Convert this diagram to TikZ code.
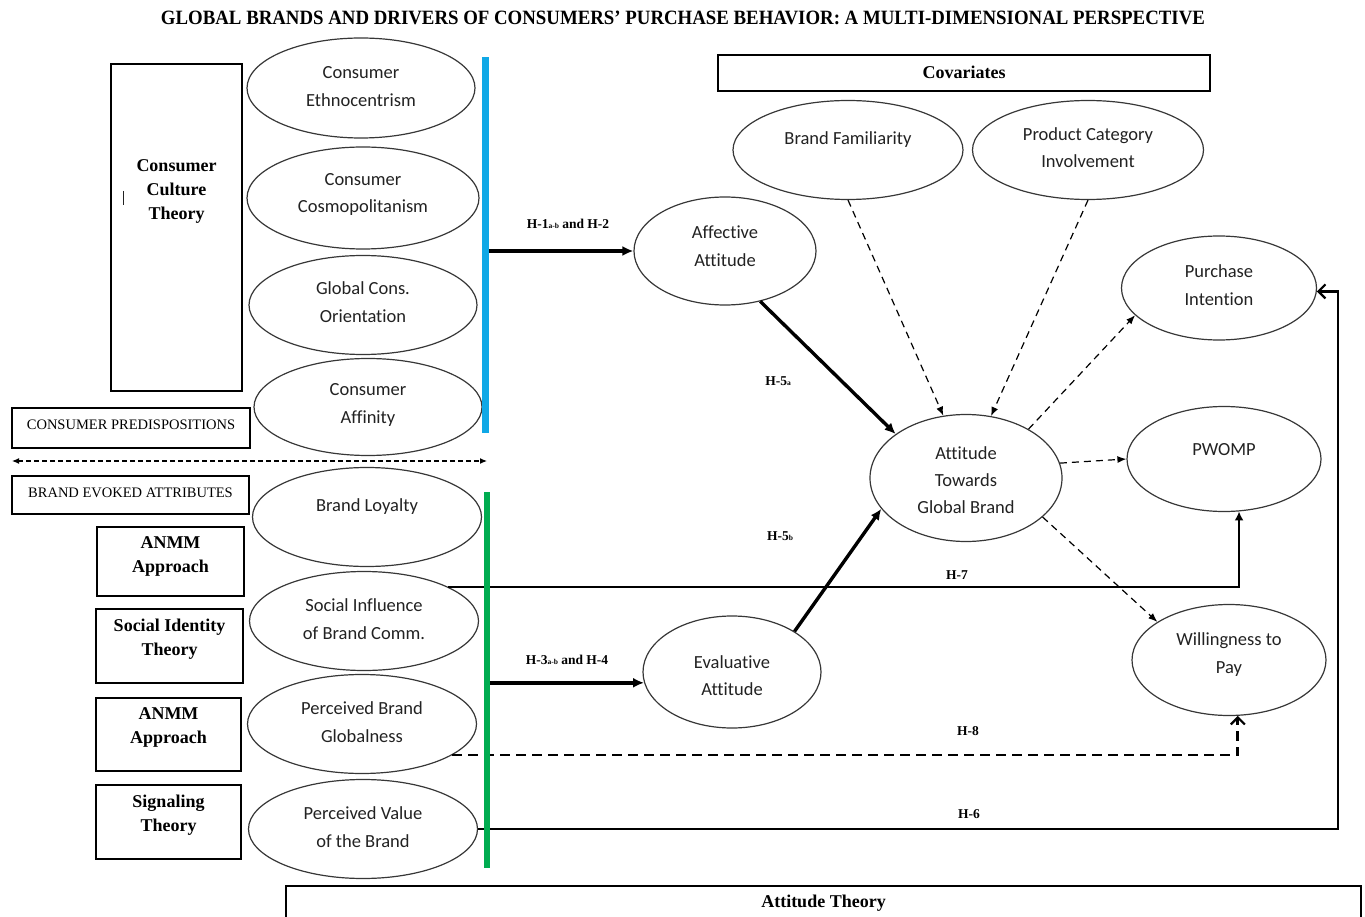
\documentclass[tikz,border=0pt]{standalone}
\usepackage{fontspec}
\setmainfont{Carlito}[Ligatures=NoCommon]
\newfontfamily\lsfont{Liberation Serif}
\usetikzlibrary{arrows.meta,shapes.geometric,calc}
\definecolor{barblue}{RGB}{16,168,230}
\definecolor{bargreen}{RGB}{0,172,80}
\definecolor{inkgray}{RGB}{34,34,34}
\definecolor{rimgray}{RGB}{55,55,55}
\newcommand{\hsub}[1]{\raisebox{-0.6pt}{\fontsize{7.5}{8}\selectfont #1}}
\begin{document}
\begin{tikzpicture}[x=1pt,y=-1pt,
  oval/.style 2 args={ellipse, draw=rimgray, line width=1.2pt, fill=white,
    inner sep=0pt, minimum width=#1pt, minimum height=#2pt},
  ovtext/.style={text=inkgray, align=center, inner sep=0pt,
    font=\fontsize{18.5}{27.5}\selectfont},
  thbox/.style 2 args={draw=black, line width=1.3pt, fill=white,
    inner sep=0pt, minimum width=#1pt, minimum height=#2pt},
  thtext/.style={text=black, align=center, inner sep=0pt,
    font=\lsfont\bfseries\fontsize{18}{24}\selectfont},
  captext/.style={text=black, align=center, inner sep=0pt,
    font=\lsfont\fontsize{14.5}{17}\selectfont},
  hlab/.style={text=black, inner sep=0pt,
    font=\lsfont\bfseries\fontsize{13.5}{16}\selectfont},
  bar/.style={draw=none, inner sep=0pt, minimum width=6.5pt, minimum height=376pt},
  boldarrow/.style={line width=3.4pt, -{Latex[length=11pt,width=10pt]}},
  covlink/.style={line width=1.2pt, dash pattern=on 7pt off 5pt,
    -{Latex[length=9pt,width=7pt]}},
  solidlink/.style={line width=2.8pt},
  dashlink/.style={line width=2.8pt, dash pattern=on 10pt off 6pt},
  barb/.style={-{Straight Barb[length=7pt,width=14pt,line width=2.2pt]}}
]
\useasboundingbox (0,0) rectangle (1365,917);

% title
\node[inner sep=0pt] (title) at (683,18)
  {\resizebox{1044pt}{13.5pt}{\lsfont\bfseries GLOBAL BRANDS AND DRIVERS OF CONSUMERS’ PURCHASE BEHAVIOR: A MULTI-DIMENSIONAL PERSPECTIVE}};

% theory boxes on the left
\node[thbox={131}{327}, label={[thtext,yshift=36pt]center:{Consumer\\Culture\\Theory}}] (cct) at (176.5,227.5) {};
\draw[line width=0.9pt, inkgray] (123,191) -- (123,205);
\node[thbox={238}{40}, label={[captext,yshift=3pt]center:CONSUMER PREDISPOSITIONS}] (cpd) at (131,428) {};
\node[thbox={237}{38}, label={[captext,yshift=2pt]center:BRAND EVOKED ATTRIBUTES}] (bea) at (130.5,495) {};
\node[thbox={147}{69}, label={[thtext,yshift=5pt]center:{ANMM\\Approach}}] (anmmA) at (170.5,561.5) {};
\node[thbox={147}{74}, label={[thtext,yshift=6.5pt]center:{Social Identity\\Theory}}] (sit) at (169.5,646) {};
\node[thbox={145}{73}, label={[thtext,yshift=7pt]center:{ANMM\\Approach}}] (anmmB) at (168.5,734.5) {};
\node[thbox={145}{74}, label={[thtext,yshift=6.5pt]center:{Signaling\\Theory}}] (sig) at (168.5,822) {};

% covariates and attitude theory boxes
\node[thbox={492}{36}, label={[thtext,yshift=1pt]center:Covariates}] (cov) at (964,73) {};
\node[thbox={1075}{54}, label={[thtext,yshift=10pt]center:Attitude Theory}] (att) at (823.5,913) {};

% consumer predispositions
\node[oval={228}{100}, label={[ovtext,yshift=1.5pt]center:{Consumer\\Ethnocentrism}}] (ce) at (361,88) {};
\node[oval={232}{102}, label={[ovtext,yshift=3.5pt]center:{Consumer\\Cosmopolitanism}}] (cc) at (363,198) {};
\node[oval={228}{99}, label={[ovtext,yshift=3pt]center:{Global Cons.\\Orientation}}] (gco) at (363,305) {};
\node[oval={228}{97}, label={[ovtext,yshift=2pt]center:{Consumer\\Affinity}}] (ca) at (368,407) {};

% brand evoked attributes
\node[oval={229}{99}, label={[ovtext,yshift=10pt]center:Brand Loyalty}] (bl) at (367,517) {};
\node[oval={229}{99}, label={[ovtext,yshift=2pt]center:{Social Influence\\of Brand Comm.}}] (sib) at (364,621) {};
\node[oval={229}{99}, label={[ovtext,yshift=2pt]center:{Perceived Brand\\Globalness}}] (pbg) at (362,724) {};
\node[oval={229}{99}, label={[ovtext,yshift=2pt]center:{Perceived Value\\of the Brand}}] (pvb) at (363,829) {};

% covariates
\node[oval={230}{99}, label={[ovtext,yshift=10pt]center:Brand Familiarity}] (bf) at (848,150) {};
\node[oval={231}{99}, label={[ovtext,yshift=2.5pt]center:{Product Category\\Involvement}}] (pci) at (1088,150) {};

% attitudes and outcomes
\node[oval={182}{108}, label={[ovtext,yshift=5pt]center:{Affective\\Attitude}}] (aa) at (725,251) {};
\node[oval={178}{112}, label={[ovtext,yshift=-3.5pt]center:{Evaluative\\Attitude}}] (ea) at (732,672) {};
\node[oval={192}{127}, label={[ovtext,yshift=-2pt,font=\fontsize{18.5}{27}\selectfont]center:{Attitude\\Towards\\Global Brand}}] (atgb) at (966,478) {};
\node[oval={195}{104}, label={[ovtext,yshift=3pt]center:{Purchase\\Intention}}] (pi) at (1219,288) {};
\node[oval={194}{105}, label={[ovtext,yshift=9pt]center:PWOMP}] (pw) at (1224,459) {};
\node[oval={194}{111}, label={[ovtext,yshift=5.5pt]center:{Willingness to\\Pay}}] (wtp) at (1229,660) {};

% long hypothesis paths to the outcomes
\coordinate (h6x) at (1338,0);
\draw[solidlink, barb] (pvb.east) -| (h6x |- pi.-2.5) -- (pi.-2.5);
\draw[solidlink, -{Latex[length=9pt,width=9pt]}] (sib.22) -| (pw.-74);
\draw[dashlink, barb] (pbg.-19) -| (wtp.-81);

% grouping bars
\node[bar, fill=barblue] (bbar) at (485.5,245) {};
\node[bar, fill=bargreen] (gbar) at (487,680) {};

% divider between the two groups
\coordinate (divL) at (12,461);
\coordinate (divR) at (487,461);
\draw[line width=1.2pt, dash pattern=on 5pt off 3pt,
  {Latex[length=7pt,width=6pt]}-{Latex[length=7pt,width=6pt]}] (divL) -- (divR);

% attitude formation
\draw[boldarrow] (bbar.east |- aa.west) -- (aa.west);
\draw[boldarrow] (gbar.east |- ea.187) -- (ea.187);
\draw[boldarrow] (aa.-55) -- (atgb.148);
\draw[boldarrow] (ea.33) -- (atgb.200);

% covariates and consequences of the global brand attitude
\draw[covlink] (bf.south) -- (atgb.110);
\draw[covlink] (pci.south) -- (atgb.68);
\draw[covlink] (atgb.38) -- (pi.198);
\draw[covlink] (atgb.9) -- (pw.west);
\draw[covlink] (atgb.-27) -- (wtp.152);

% hypothesis labels
\node[hlab] (h1) at (568,224) {H-1\hsub{a-b} and H-2};
\node[hlab] (h3) at (567,660) {H-3\hsub{a-b} and H-4};
\node[hlab] (h5a) at (778,381) {H-5\hsub{a}};
\node[hlab] (h5b) at (780,536) {H-5\hsub{b}};
\node[hlab] (h7) at (957,575) {H-7};
\node[hlab] (h8) at (968,731) {H-8};
\node[hlab] (h6) at (969,814) {H-6};
\end{tikzpicture}
\end{document}
